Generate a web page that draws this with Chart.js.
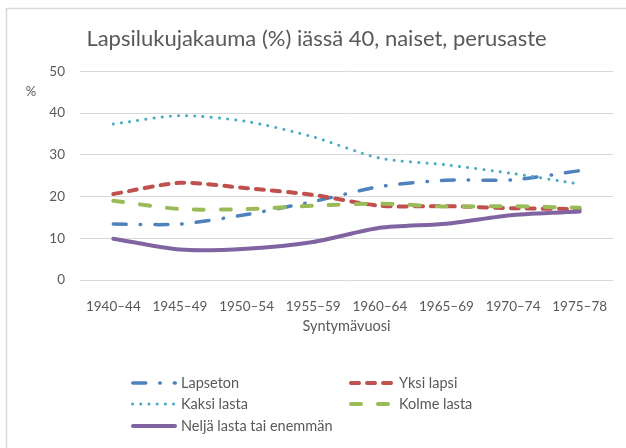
<!DOCTYPE html>
<html>
<head>
<meta charset="utf-8">
<script src="https://cdn.jsdelivr.net/npm/chart.js@4/dist/chart.umd.min.js"></script>
<style>
  html, body { margin: 0; padding: 0; background: #ffffff; }
  #wrap { width: 626px; height: 448px; position: relative; }
</style>
</head>
<body>
<div id="wrap"><canvas id="c" width="626" height="448"></canvas></div>
<script>
const categories = ['1940–44', '1945–49', '1950–54', '1955–59', '1960–64', '1965–69', '1970–74', '1975–78'];
const seriesNames = ['Lapseton', 'Yksi lapsi', 'Kaksi lasta', 'Kolme lasta', 'Neljä lasta tai enemmän'];
const lapseton = [13.4, 13.4, 15.7, 18.8, 22.4, 23.9, 24.0, 26.2];
const yksiLapsi = [20.6, 23.3, 22.0, 20.4, 17.8, 17.7, 17.2, 17.0];
const kaksiLasta = [37.4, 39.4, 38.0, 34.3, 29.2, 27.6, 25.5, 23.0];
const kolmeLasta = [19.0, 17.0, 17.0, 17.8, 18.3, 17.6, 17.7, 17.3];
const neljaLasta = [9.9, 7.3, 7.5, 9.1, 12.5, 13.5, 15.6, 16.4];
const yTicks = [0, 10, 20, 30, 40, 50];
const titleText = 'Lapsilukujakauma (%) iässä 40, naiset, perusaste';
const xTitle = 'Syntymävuosi';
const yUnit = '%';

const FONT = 'Lato, "Open Sans", sans-serif';
const TXT = '#595959';

const frame = {
  id: 'frame',
  beforeDraw(chart) {
    const ctx = chart.ctx;
    ctx.save();
    ctx.strokeStyle = '#d9d9d9';
    ctx.lineWidth = 1.5;
    ctx.strokeRect(6.5, 8.5, 640, 460);
    ctx.restore();
  }
};

const extras = {
  id: 'extras',
  afterDraw(chart) {
    const ctx = chart.ctx;
    const ys = chart.scales.y;
    ctx.save();
    ctx.fillStyle = TXT;
    ctx.font = '13px ' + FONT;
    ctx.textAlign = 'center';
    ctx.textBaseline = 'middle';
    ctx.fillText(yUnit, 31, (ys.getPixelForValue(50) + ys.getPixelForValue(40)) / 2);
    // legend
    const cols = [131, 349];
    const rows = [383, 404, 426];
    chart.data.datasets.forEach((ds, i) => {
      const x0 = cols[i % 2];
      const y0 = rows[Math.floor(i / 2)];
      ctx.save();
      ctx.strokeStyle = ds.borderColor;
      ctx.lineWidth = ds.borderWidth;
      ctx.lineCap = ds.borderCapStyle || 'butt';
      ctx.setLineDash(ds.borderDash || []);
      ctx.beginPath();
      const pad = (ds.borderCapStyle === 'round') ? ds.borderWidth / 2 : 0;
      ctx.moveTo(x0 + pad, y0);
      ctx.lineTo(x0 + 46 - pad, y0);
      ctx.stroke();
      ctx.restore();
      ctx.fillStyle = TXT;
      ctx.font = '14.5px ' + FONT;
      ctx.textAlign = 'left';
      ctx.textBaseline = 'middle';
      ctx.fillText(ds.label, x0 + 50, y0);
    });
    ctx.restore();
  }
};

const common = { pointRadius: 0, pointHoverRadius: 0, fill: false, tension: 0.25 };

new Chart(document.getElementById('c'), {
  type: 'line',
  data: {
    labels: categories,
    datasets: [
      Object.assign({ label: seriesNames[0], data: lapseton, borderColor: '#4F81BD', borderWidth: 3.5, borderCapStyle: 'round', borderDash: [13, 14, 0.5, 14], order: 5 }, common),
      Object.assign({ label: seriesNames[1], data: yksiLapsi, borderColor: '#C0504D', borderWidth: 4, borderCapStyle: 'round', borderDash: [8, 8], order: 4 }, common),
      Object.assign({ label: seriesNames[2], data: kaksiLasta, borderColor: '#4BACC6', borderWidth: 3, borderCapStyle: 'round', borderDash: [0.1, 8.1], order: 3 }, common),
      Object.assign({ label: seriesNames[3], data: kolmeLasta, borderColor: '#9BBB59', borderWidth: 4, borderCapStyle: 'round', borderDash: [10, 17], order: 2 }, common),
      Object.assign({ label: seriesNames[4], data: neljaLasta, borderColor: '#8064A2', borderWidth: 4, borderCapStyle: 'round', order: 1 }, common)
    ]
  },
  options: {
    responsive: false,
    animation: false,
    events: [],
    layout: { padding: { left: 20, right: 13, top: 0, bottom: 108 } },
    plugins: {
      legend: { display: false },
      tooltip: { enabled: false },
      title: {
        display: true,
        text: titleText,
        color: TXT,
        font: { family: FONT, size: 22, weight: 'normal' },
        padding: { top: 26, bottom: 19 }
      }
    },
    scales: {
      x: {
        offset: true,
        grid: { display: false },
        border: { display: false },
        ticks: { color: TXT, font: { family: FONT, size: 13.5 }, padding: 11, maxRotation: 0, autoSkip: false },
        title: { display: true, text: xTitle, color: TXT, font: { family: FONT, size: 14.5 }, padding: { top: 0, bottom: 5 } },
        afterFit(s) { s.height = 60; }
      },
      y: {
        min: 0, max: 50,
        grid: { color: '#d9d9d9', lineWidth: 1, drawTicks: false },
        border: { display: false },
        afterBuildTicks(s) { s.ticks = yTicks.map(v => ({ value: v })); },
        ticks: { color: TXT, font: { family: FONT, size: 13.5 }, padding: 15 },
        afterFit(s) { s.width = 60; }
      }
    }
  },
  plugins: [frame, extras]
});
</script>
</body>
</html>
